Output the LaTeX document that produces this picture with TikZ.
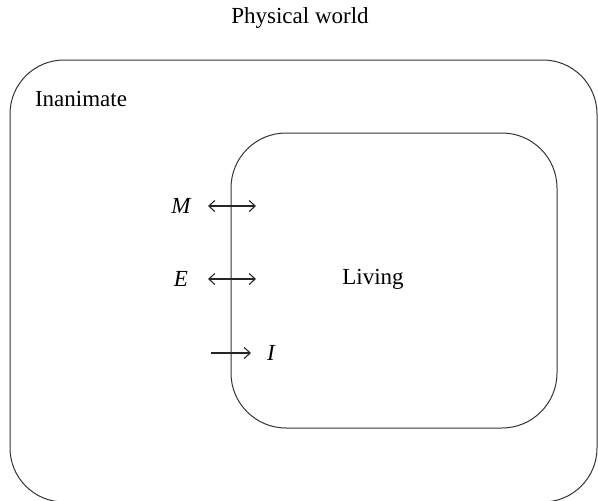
\documentclass[tikz,border=0pt]{standalone}
\usepackage{fontspec}
\setmainfont{Liberation Serif}
\usetikzlibrary{arrows.meta}
\begin{document}
\begin{tikzpicture}[x=1pt,y=-1pt,
  lbl/.style={font=\fontsize{23}{27}\selectfont, inner sep=0pt},
  box/.style={draw=black!80, line width=1pt},
  arr/.style={draw=black!85, line width=1.1pt, arrows={Straight Barb[length=6pt,width=11pt]-Straight Barb[length=6pt,width=11pt]}},
  arrr/.style={draw=black!85, line width=1.1pt, -{Straight Barb[length=6pt,width=11pt]}}]
\useasboundingbox (0,0) rectangle (598,501);
\begin{scope}
\clip (0,0) rectangle (598,501);
\draw[box, rounded corners=54pt] (10,60) rectangle (597,502);
\end{scope}
\draw[box, rounded corners=55pt] (231,133) rectangle (557,428);
\node[lbl] (title) at (300,18) {Physical world};
\node[lbl] (inan) at (81,99) {Inanimate};
\node[lbl] (liv) at (373,279) {Living};
\node[lbl] (M) at (181,206) {\itshape M};
\node[lbl] (E) at (181,279) {\itshape E};
\node[lbl] (I) at (271,353) {\itshape I};
\coordinate (m1) at (208,206); \coordinate (m2) at (256,206);
\coordinate (e1) at (208,279); \coordinate (e2) at (256,279);
\coordinate (i1) at (211,353); \coordinate (i2) at (251,353);
\draw[arr] (m1) -- (m2);
\draw[arr] (e1) -- (e2);
\draw[arrr] (i1) -- (i2);
\end{tikzpicture}
\end{document}
